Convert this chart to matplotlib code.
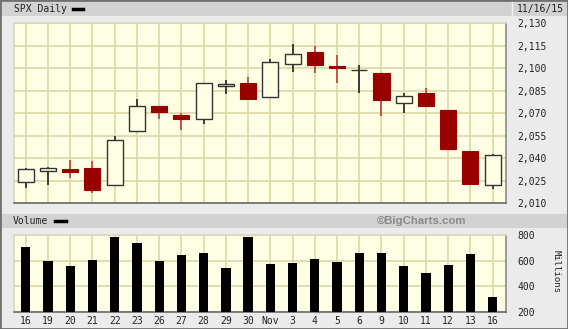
import matplotlib
matplotlib.use("Agg")
import matplotlib.pyplot as plt
from matplotlib.patches import Rectangle
from matplotlib.lines import Line2D
import numpy as np

# SPX daily, 16 Oct - 16 Nov 2015
days = ["16", "19", "20", "21", "22", "23", "26", "27", "28", "29", "30",
        "Nov", "3", "4", "5", "6", "9", "10", "11", "12", "13", "16"]
opens = [2024.4, 2031.7, 2033.1, 2033.5, 2021.9, 2058.2, 2075.1, 2068.8, 2066.5, 2088.4, 2090.0,
         2080.8, 2102.6, 2110.6, 2101.7, 2098.6, 2096.6, 2077.2, 2083.4, 2072.3, 2044.6, 2022.1]
highs = [2033.5, 2034.5, 2039.1, 2038.0, 2055.2, 2079.7, 2075.1, 2070.4, 2090.4, 2092.5, 2094.3,
         2106.2, 2116.5, 2114.6, 2108.8, 2101.9, 2096.6, 2083.7, 2086.9, 2072.3, 2044.6, 2042.7]
lows = [2020.5, 2022.3, 2026.6, 2017.2, 2021.9, 2058.2, 2066.5, 2058.8, 2063.1, 2082.6, 2079.3,
        2080.8, 2097.5, 2097.0, 2090.4, 2083.7, 2068.2, 2069.9, 2074.9, 2045.7, 2022.0, 2019.4]
closes = [2033.1, 2033.7, 2030.8, 2018.9, 2052.5, 2075.2, 2071.2, 2065.9, 2090.4, 2089.4, 2079.4,
          2104.1, 2109.8, 2102.3, 2099.9, 2099.2, 2078.6, 2081.7, 2075.0, 2046.0, 2023.0, 2042.0]
volume = [703, 596, 557, 604, 782, 735, 596, 641, 657, 542, 782,
          573, 581, 612, 589, 657, 657, 557, 503, 565, 649, 312]

price_ticks = list(range(2010, 2131, 15))
vol_ticks = [200, 400, 600, 800]

W, H = 568, 329
BG = "#ebebeb"
BAND = "#d2d2d2"
PLOT_BG = "#ffffe6"
GRID = "#ddd6a6"
RED = "#990000"
RED_WICK = "#c23c3c"
MONO = "DejaVu Sans Mono"
FS = 7


def fx(x):
    return x / W


def fy(y):
    return 1 - y / H


fig = plt.figure(figsize=(W / 100, H / 100), dpi=100, facecolor=BG)

# header bands
fig.add_artist(Rectangle((0, fy(16)), 1, fy(2) - fy(16), transform=fig.transFigure,
                         facecolor=BAND, edgecolor="none"))
fig.add_artist(Line2D([fx(512), fx(512)], [fy(16), fy(2)], transform=fig.transFigure,
                      color="#f2f2f2", lw=1))
fig.add_artist(Rectangle((0, fy(228)), 1, fy(214) - fy(228), transform=fig.transFigure,
                         facecolor=BAND, edgecolor="none"))
fig.text(fx(14), fy(9), "SPX Daily", family=MONO, fontsize=FS, va="center", ha="left", color="#222222")
fig.add_artist(Line2D([fx(73), fx(83)], [fy(9), fy(9)], transform=fig.transFigure, color="black", lw=2.5))
fig.text(fx(564), fy(9), "11/16/15", family=MONO, fontsize=FS, va="center", ha="right", color="#222222")
fig.text(fx(13), fy(221), "Volume", family=MONO, fontsize=FS, va="center", ha="left", color="#222222")
fig.add_artist(Line2D([fx(55), fx(66)], [fy(221), fy(221)], transform=fig.transFigure, color="black", lw=2.5))
fig.text(fx(466), fy(221), "\u00a9BigCharts.com", family="Liberation Sans", fontsize=8.2,
         fontweight="bold", va="center", ha="right", color="#8a8a8a")

x = np.arange(len(days))
xlim = (-0.53, 21.6)

# price panel
ax = fig.add_axes([fx(14), fy(203.3), fx(506) - fx(14), fy(23.3) - fy(203.3)], facecolor=PLOT_BG)
ax.set_xlim(*xlim)
ax.set_ylim(2010, 2130)
ax.set_xticks(x)
ax.set_yticks(price_ticks)
ax.grid(True, color=GRID, lw=1.2, zorder=0)
ax.set_axisbelow(True)
ax.tick_params(length=0, labelbottom=False, labelleft=False, labelright=True, pad=8)
ax.set_yticklabels([f"{v:,}" for v in price_ticks], family=MONO, fontsize=FS, color="#222222")

o = np.array(opens)
c = np.array(closes)
up = c >= o
body_lo = np.minimum(o, c)
body_h = np.maximum(np.abs(c - o), 0.5)
ax.vlines(x[up], np.array(lows)[up], np.array(highs)[up], color="#222222", lw=1.2, zorder=2)
ax.vlines(x[~up], np.array(lows)[~up], np.array(highs)[~up], color=RED_WICK, lw=1.2, zorder=2)
ax.bar(x[up], body_h[up], bottom=body_lo[up], width=0.72, facecolor=PLOT_BG, edgecolor="#333333",
       lw=1.0, zorder=3)
ax.bar(x[~up], body_h[~up], bottom=body_lo[~up], width=0.72, facecolor=RED, edgecolor=RED,
       lw=0.8, zorder=3)

# volume panel
vx = fig.add_axes([fx(14), fy(311.7), fx(506) - fx(14), fy(235) - fy(311.7)], facecolor=PLOT_BG)
vx.set_xlim(*xlim)
vx.set_ylim(200, 800)
vx.set_xticks(x)
vx.set_xticklabels(days, family=MONO, fontsize=FS, color="#222222")
vx.set_yticks(vol_ticks)
vx.set_yticklabels([str(v) for v in vol_ticks], family=MONO, fontsize=FS, color="#222222")
vx.grid(True, color=GRID, lw=1.2, zorder=0)
vx.set_axisbelow(True)
vx.tick_params(length=0, labelleft=False, labelright=True, pad=8)
vx.tick_params(axis="x", pad=3)
vx.bar(x, np.array(volume) - 200, bottom=200, width=0.42, color="black", zorder=3)
fig.text(fx(556), fy(272), "Millions", family=MONO, fontsize=6.5, rotation=270, va="center", ha="center",
         color="#222222")

for a in (ax, vx):
    a.spines["left"].set_color("#d8d8c0")
    a.spines["top"].set_color("#d8d8c0")
    a.spines["right"].set_color("#8a8a8a")
    a.spines["bottom"].set_color("#6a6a6a")
    for s in a.spines.values():
        s.set_linewidth(1.2)

# outer border
fig.add_artist(Rectangle((0, 0), 1, 1, transform=fig.transFigure, fill=False,
                         edgecolor="#707070", lw=2))

fig.savefig("out.png", dpi=100, facecolor=BG)
